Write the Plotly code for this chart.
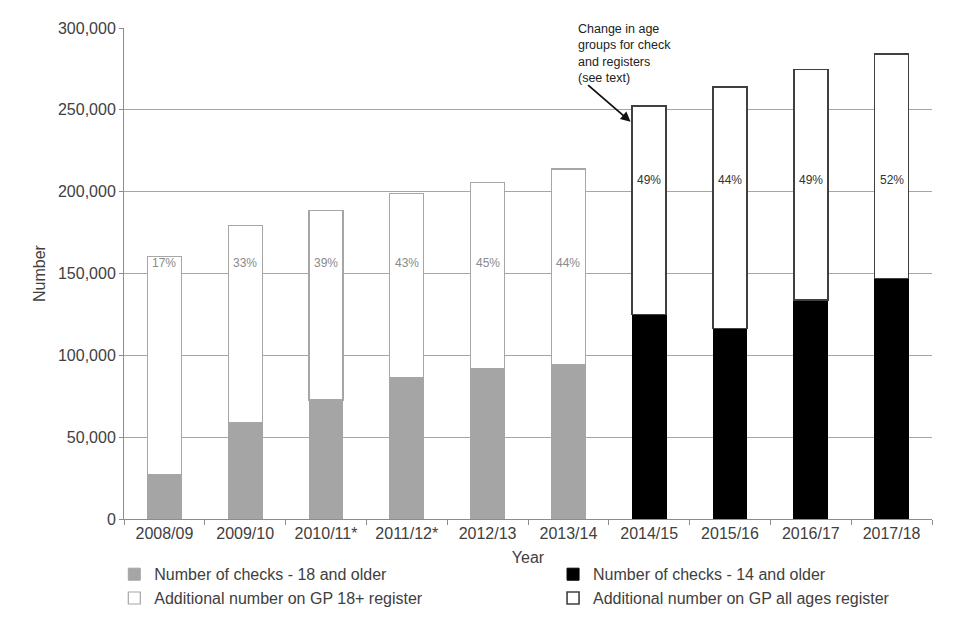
import plotly.graph_objects as go

years = ["2008/09", "2009/10", "2010/11*", "2011/12*", "2012/13", "2013/14",
         "2014/15", "2015/16", "2016/17", "2017/18"]
# Number of health checks
checks_18 = [27000, 58600, 72700, 86100, 92200, 94400, None, None, None, None]
checks_14 = [None, None, None, None, None, None, 124900, 116300, 133900, 147000]
# Total on GP register
register_total = [160300, 179100, 188600, 199000, 205400, 213900, 252400, 263900, 274700, 284300]
pct_labels = ["17%", "33%", "39%", "43%", "45%", "44%", "49%", "44%", "49%", "52%"]

additional_18 = [t - c if c is not None else None for t, c in zip(register_total, checks_18)]
additional_all = [t - c if c is not None else None for t, c in zip(register_total, checks_14)]

FONT = "Liberation Sans, Arial, sans-serif"

fig = go.Figure()
fig.add_trace(go.Bar(
    x=years, y=checks_18, name="Number of checks - 18 and older",
    marker=dict(color="#a5a5a5", line=dict(color="#a5a5a5", width=1)),
    legend="legend"))
fig.add_trace(go.Bar(
    x=years, y=checks_14, name="Number of checks - 14 and older",
    marker=dict(color="#000000", line=dict(color="#000000", width=1)),
    legend="legend2"))
fig.add_trace(go.Bar(
    x=years, y=additional_18, name="Additional number on GP 18+ register",
    marker=dict(color="#ffffff", line=dict(color="#a6a6a6", width=1.2)),
    legend="legend"))
fig.add_trace(go.Bar(
    x=years, y=additional_all, name="Additional number on GP all ages register",
    marker=dict(color="#ffffff", line=dict(color="#404040", width=1.6)),
    legend="legend2"))

# percentage labels
for i, (yr, lab) in enumerate(zip(years, pct_labels)):
    early = checks_18[i] is not None
    fig.add_annotation(
        x=yr, y=156500 if early else 207000, text=lab, showarrow=False,
        font=dict(family=FONT, size=12, color="#8a8a8a" if early else "#333333"))

# change note
fig.add_annotation(
    xref="paper", yref="paper", x=0.560, y=1.017, xanchor="left", yanchor="top",
    text="Change in age<br>groups for check<br>and registers<br>(see text)",
    showarrow=False, align="left",
    font=dict(family=FONT, size=12.5, color="#222222"))
fig.add_annotation(
    xref="paper", yref="paper", x=0.627, y=0.809, text="", showarrow=True,
    ax=-44, ay=-38, arrowhead=2, arrowsize=1.1, arrowwidth=1.8, arrowcolor="#111111",
    standoff=0)

legend_common = dict(orientation="v", xanchor="left", yanchor="top",
                     font=dict(family=FONT, size=16, color="#404040"),
                     tracegroupgap=0, itemwidth=30, traceorder="normal",
                     bgcolor="rgba(0,0,0,0)")

fig.update_layout(
    width=952, height=632,
    barmode="stack", bargap=0.58,
    plot_bgcolor="#ffffff", paper_bgcolor="#ffffff",
    margin=dict(l=116, r=28, t=13, b=121),
    font=dict(family=FONT, size=16, color="#404040"),
    legend=dict(x=-0.012, y=-0.078, **legend_common),
    legend2=dict(x=0.531, y=-0.078, **legend_common),
    xaxis=dict(
        type="category", showline=True, linecolor="#8c8c8c", linewidth=1,
        ticks="outside", tickson="boundaries", ticklen=5, tickcolor="#8c8c8c",
        tickfont=dict(size=16, color="#404040"),
        title=dict(text="Year", font=dict(size=16, color="#404040"), standoff=10),
        showgrid=False),
    yaxis=dict(
        range=[0, 300000], dtick=50000, tickformat=",d",
        showline=True, linecolor="#8c8c8c", linewidth=1,
        ticks="outside", ticklen=4, tickcolor="#8c8c8c",
        showgrid=True, gridcolor="#a6a6a6", gridwidth=1, zeroline=False,
        tickfont=dict(size=16, color="#404040"),
        title=dict(text="Number", font=dict(size=16, color="#404040"), standoff=8)),
)

fig.write_html("out.html")
